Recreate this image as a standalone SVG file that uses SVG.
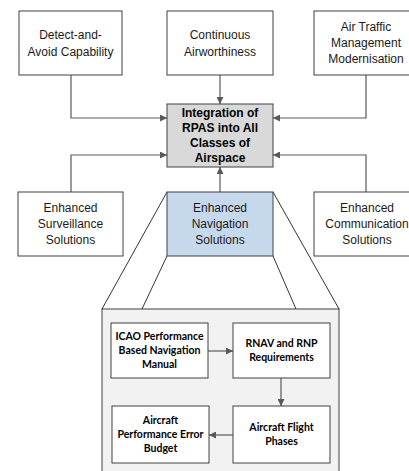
<svg xmlns="http://www.w3.org/2000/svg" width="409" height="471" viewBox="0 0 409 471">
  <style>
    .box { fill: #ffffff; stroke: #404040; stroke-width: 1; }
    .hub { fill: #d9d9d9; stroke: #404040; stroke-width: 1; }
    .nav { fill: #c6d9ec; stroke: #404040; stroke-width: 1; }
    .panel { fill: #f2f2f2; stroke: #404040; stroke-width: 1; }
    .lbl { font-family: "Liberation Sans", Arial, sans-serif; font-size: 12px; fill: #1a1a1a; text-anchor: middle; }
    .hubl { font-family: "Liberation Sans", Arial, sans-serif; font-size: 12px; font-weight: bold; fill: #000000; text-anchor: middle; }
    .sub { font-family: Lato, "Open Sans", sans-serif; font-size: 10.5px; font-weight: bold; fill: #000000; text-anchor: middle; }
    .conn { fill: none; stroke: #595959; stroke-width: 1.2; }
    .zoomline { fill: none; stroke: #000000; stroke-width: 0.8; }
  </style>
  <defs>
    <marker id="arrow" viewBox="0 0 10 10" refX="10" refY="5" markerWidth="7" markerHeight="7" markerUnits="userSpaceOnUse" orient="auto">
      <path d="M0,0 L10,5 L0,10 z" fill="#595959"/>
    </marker>
  </defs>

  <!-- expansion panel behind the navigation node -->
  <g id="detail-panel">
    <rect class="panel" x="102" y="309" width="237" height="170"/>
    <line class="zoomline" x1="167" y1="192" x2="102" y2="309"/>
    <line class="zoomline" x1="167" y1="256" x2="142" y2="309"/>
    <line class="zoomline" x1="273" y1="192" x2="339" y2="309"/>
    <line class="zoomline" x1="273" y1="256" x2="296" y2="309"/>
  </g>

  <g id="connectors">
    <path class="conn" d="M71,75 V118 H167" marker-end="url(#arrow)"/>
    <path class="conn" d="M220,75 V104" marker-end="url(#arrow)"/>
    <path class="conn" d="M366,75 V118 H273" marker-end="url(#arrow)"/>
    <path class="conn" d="M71,192 V155 H167" marker-end="url(#arrow)"/>
    <path class="conn" d="M220,192 V167" marker-end="url(#arrow)"/>
    <path class="conn" d="M366,192 V155 H273" marker-end="url(#arrow)"/>
    <path class="conn" d="M208,351 H233" marker-end="url(#arrow)"/>
    <path class="conn" d="M281,378 V406" marker-end="url(#arrow)"/>
    <path class="conn" d="M233,435 H209" marker-end="url(#arrow)"/>
  </g>

  <g id="detect-avoid">
    <rect class="box" x="19" y="11" width="103" height="64"/>
    <text class="lbl" x="70.5" y="39">Detect-and-</text>
    <text class="lbl" x="70.5" y="56">Avoid Capability</text>
  </g>

  <g id="continuous-airworthiness">
    <rect class="box" x="167" y="11" width="106" height="64"/>
    <text class="lbl" x="220" y="39">Continuous</text>
    <text class="lbl" x="220" y="56">Airworthiness</text>
  </g>

  <g id="atm-modernisation">
    <rect class="box" x="314" y="11" width="100" height="64"/>
    <text class="lbl" x="366" y="31">Air Traffic</text>
    <text class="lbl" x="366" y="47">Management</text>
    <text class="lbl" x="366" y="63">Modernisation</text>
  </g>

  <g id="rpas-integration">
    <rect class="hub" x="167" y="104" width="106" height="63"/>
    <text class="hubl" x="220" y="117">Integration of</text>
    <text class="hubl" x="220" y="132">RPAS into All</text>
    <text class="hubl" x="220" y="147">Classes of</text>
    <text class="hubl" x="220" y="162">Airspace</text>
  </g>

  <g id="surveillance">
    <rect class="box" x="18" y="192" width="105" height="64"/>
    <text class="lbl" x="70.5" y="212">Enhanced</text>
    <text class="lbl" x="70.5" y="228">Surveillance</text>
    <text class="lbl" x="70.5" y="244">Solutions</text>
  </g>

  <g id="navigation">
    <rect class="nav" x="167" y="192" width="106" height="64"/>
    <text class="lbl" x="220" y="212">Enhanced</text>
    <text class="lbl" x="220" y="228">Navigation</text>
    <text class="lbl" x="220" y="244">Solutions</text>
  </g>

  <g id="communication">
    <rect class="box" x="314" y="192" width="100" height="64"/>
    <text class="lbl" x="367" y="212">Enhanced</text>
    <text class="lbl" x="367" y="228">Communication</text>
    <text class="lbl" x="367" y="244">Solutions</text>
  </g>

  <g id="pbn-manual">
    <rect class="box" x="111" y="323" width="97" height="55"/>
    <text class="sub" x="159.5" y="340">ICAO Performance</text>
    <text class="sub" x="159.5" y="354">Based Navigation</text>
    <text class="sub" x="159.5" y="368">Manual</text>
  </g>

  <g id="rnav-rnp">
    <rect class="box" x="233" y="323" width="97" height="55"/>
    <text class="sub" x="281.5" y="347">RNAV and RNP</text>
    <text class="sub" x="281.5" y="361">Requirements</text>
  </g>

  <g id="flight-phases">
    <rect class="box" x="233" y="406" width="97" height="57"/>
    <text class="sub" x="281.5" y="431">Aircraft Flight</text>
    <text class="sub" x="281.5" y="445">Phases</text>
  </g>

  <g id="error-budget">
    <rect class="box" x="112" y="406" width="97" height="57"/>
    <text class="sub" x="160.5" y="424">Aircraft</text>
    <text class="sub" x="160.5" y="438">Performance Error</text>
    <text class="sub" x="160.5" y="452">Budget</text>
  </g>
</svg>
